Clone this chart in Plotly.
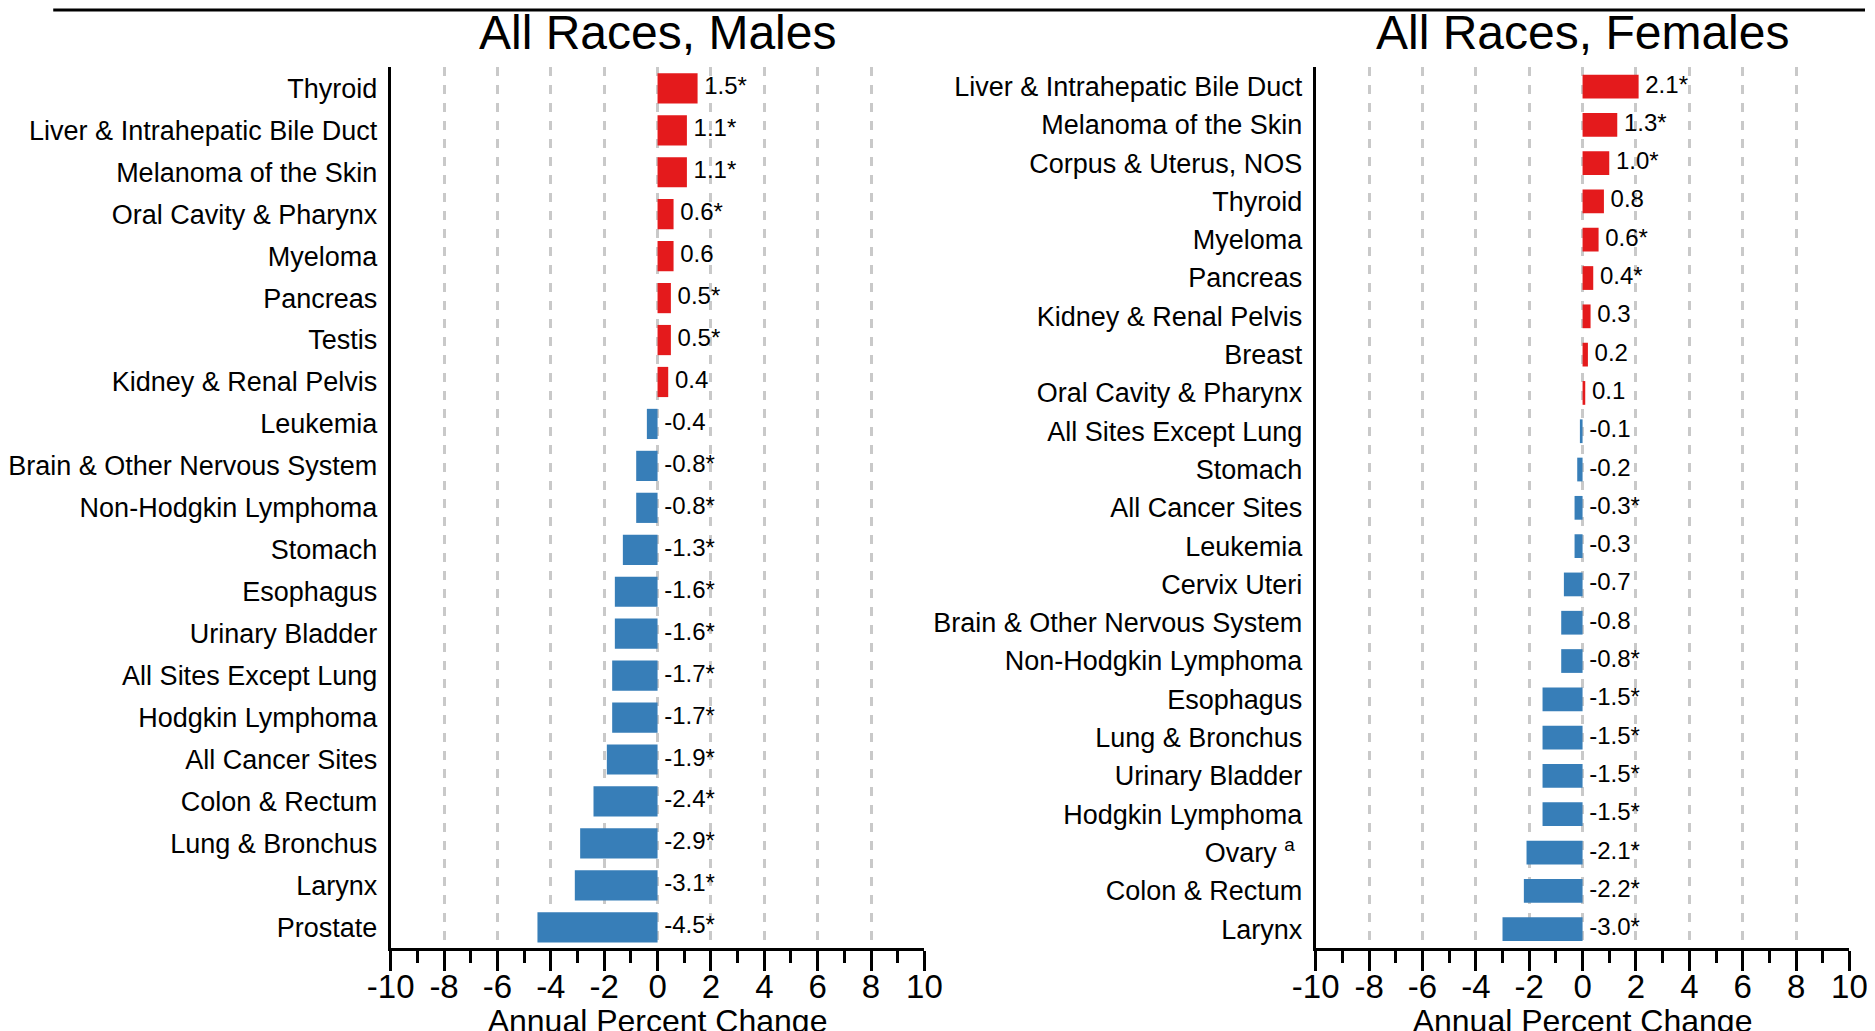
import plotly.graph_objects as go

# ---------------- data ----------------
male_sites = [
    "Thyroid", "Liver & Intrahepatic Bile Duct", "Melanoma of the Skin",
    "Oral Cavity & Pharynx", "Myeloma", "Pancreas", "Testis",
    "Kidney & Renal Pelvis", "Leukemia", "Brain & Other Nervous System",
    "Non-Hodgkin Lymphoma", "Stomach", "Esophagus", "Urinary Bladder",
    "All Sites Except Lung", "Hodgkin Lymphoma", "All Cancer Sites",
    "Colon & Rectum", "Lung & Bronchus", "Larynx", "Prostate",
]
male_apc = [1.5, 1.1, 1.1, 0.6, 0.6, 0.5, 0.5, 0.4, -0.4, -0.8, -0.8, -1.3,
            -1.6, -1.6, -1.7, -1.7, -1.9, -2.4, -2.9, -3.1, -4.5]
male_sig = [True, True, True, True, False, True, True, False, False, True, True,
            True, True, True, True, True, True, True, True, True, True]

female_sites = [
    "Liver & Intrahepatic Bile Duct", "Melanoma of the Skin",
    "Corpus & Uterus, NOS", "Thyroid", "Myeloma", "Pancreas",
    "Kidney & Renal Pelvis", "Breast", "Oral Cavity & Pharynx",
    "All Sites Except Lung", "Stomach", "All Cancer Sites", "Leukemia",
    "Cervix Uteri", "Brain & Other Nervous System", "Non-Hodgkin Lymphoma",
    "Esophagus", "Lung & Bronchus", "Urinary Bladder", "Hodgkin Lymphoma",
    "Ovary <sup>a</sup> ", "Colon & Rectum", "Larynx",
]
female_apc = [2.1, 1.3, 1.0, 0.8, 0.6, 0.4, 0.3, 0.2, 0.1, -0.1, -0.2, -0.3,
              -0.3, -0.7, -0.8, -0.8, -1.5, -1.5, -1.5, -1.5, -2.1, -2.2, -3.0]
female_sig = [True, True, True, False, True, True, False, False, False, False,
              False, True, False, False, False, True, True, True, True, True,
              True, True, True]

panel_titles = ["All Races, Males", "All Races, Females"]
x_axis_title = "Annual Percent Change"
tick_values = [-10, -8, -6, -4, -2, 0, 2, 4, 6, 8, 10]
tick_labels = ["-10", "-8", "-6", "-4", "-2", "0", "2", "4", "6", "8", "10"]
minor_tick_values = [-9, -7, -5, -3, -1, 1, 3, 5, 7, 9]

RED = "#E41A1C"
BLUE = "#377EB8"
FONT = "Liberation Sans, Arial, sans-serif"

fig = go.Figure()


def add_panel(sites, vals, sig, xa, ya, bar_width):
    colors = [RED if v > 0 else BLUE for v in vals]
    fig.add_trace(go.Bar(
        x=vals, y=sites, orientation="h", marker=dict(color=colors, line=dict(width=0)),
        width=bar_width, xaxis=xa, yaxis=ya, showlegend=False, hoverinfo="x+y",
    ))
    labels = ["\u00a0" + f"{v:.1f}" + ("*" if s else "") for v, s in zip(vals, sig)]
    fig.add_trace(go.Scatter(
        x=[max(v, 0) for v in vals], y=sites, mode="text", text=labels,
        textposition="middle right",
        textfont=dict(size=24, color="black", family=FONT),
        xaxis=xa, yaxis=ya, showlegend=False, cliponaxis=False, hoverinfo="skip",
    ))


add_panel(male_sites, male_apc, male_sig, "x", "y", 0.72)
add_panel(female_sites, female_apc, female_sig, "x2", "y2", 0.62)

xcommon = dict(
    range=[-10, 10], tickmode="array", tickvals=tick_values, ticktext=tick_labels,
    ticks="outside", ticklen=20, tickwidth=3, tickcolor="black",
    ticklabelstandoff=-13,
    minor=dict(tickmode="array", tickvals=minor_tick_values, ticks="outside",
               ticklen=12, tickwidth=3, tickcolor="black", showgrid=False),
    showline=True, linewidth=3, linecolor="black",
    showgrid=True, gridcolor="#c9c9c9", gridwidth=2.5, griddash="dash",
    zeroline=False,
    tickfont=dict(size=33, color="black", family=FONT),
    title=dict(text=x_axis_title, font=dict(size=32, color="black", family=FONT), standoff=6),
    fixedrange=True,
)
ycommon = dict(
    type="category",
    showline=True, linewidth=3, linecolor="black", ticks="",
    showgrid=False, zeroline=False, ticklabelstandoff=5,
    tickfont=dict(size=27, color="black", family=FONT),
    fixedrange=True,
)

YD = [0.088, 0.9424]
fig.update_layout(
    width=1875, height=1031,
    margin=dict(l=0, r=0, t=0, b=0),
    paper_bgcolor="white", plot_bgcolor="white",
    font=dict(family=FONT, color="black"),
    bargap=0.3,
    xaxis=dict(domain=[0.1948, 0.4863], anchor="y", **xcommon),
    yaxis=dict(domain=YD, anchor="x", categoryorder="array", categoryarray=male_sites,
               range=[len(male_sites) - 0.5, -0.5], **ycommon),
    xaxis2=dict(domain=[0.700, 0.9915], anchor="y2", **xcommon),
    yaxis2=dict(domain=YD, anchor="x2", categoryorder="array", categoryarray=female_sites,
                range=[len(female_sites) - 0.5, -0.5], **ycommon),
    annotations=[
        dict(text=panel_titles[0], xref="x", yref="paper", x=0, y=0.976,
             xanchor="center", yanchor="middle", showarrow=False,
             font=dict(size=48, color="black", family=FONT)),
        dict(text=panel_titles[1], xref="x2", yref="paper", x=0, y=0.976,
             xanchor="center", yanchor="middle", showarrow=False,
             font=dict(size=48, color="black", family=FONT)),
    ],
    shapes=[
        dict(type="line", xref="paper", yref="paper", x0=0.0105, x1=1.0,
             y0=0.998, y1=0.998, line=dict(color="black", width=3)),
    ],
)

fig.write_html("out.html")
